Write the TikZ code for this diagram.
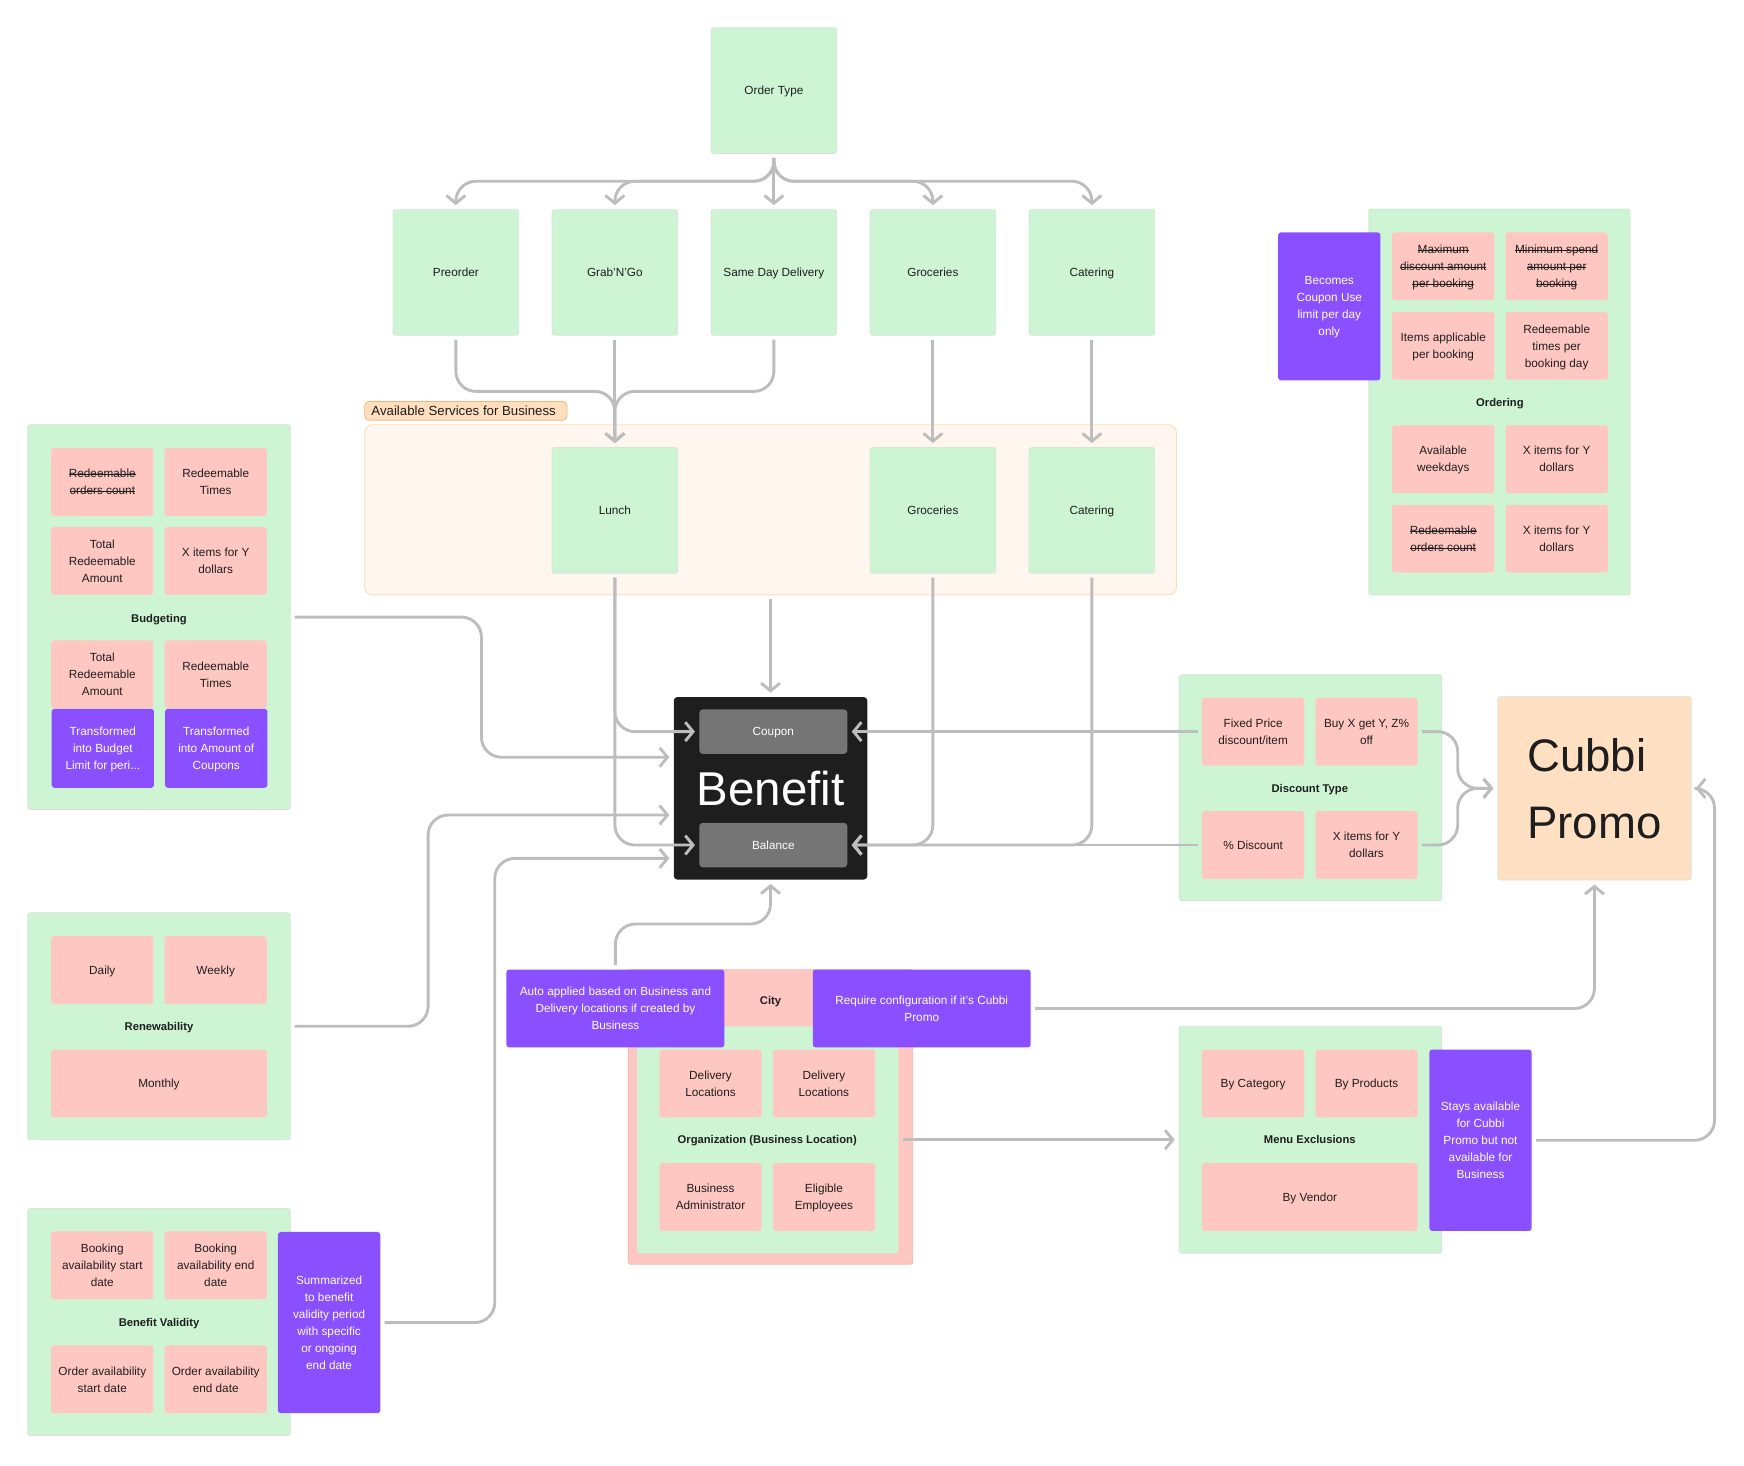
\documentclass[tikz,border=0pt]{standalone}
\usepackage{fontspec}
\setmainfont{Liberation Sans}
\usepackage{xcolor}
\usetikzlibrary{arrows.meta}
\definecolor{mintfill}{HTML}{CDF5D3}
\definecolor{mintline}{HTML}{D5E6D8}
\definecolor{rosefill}{HTML}{FFC7C2}
\definecolor{roseline}{HTML}{EDB8B4}
\definecolor{violetfill}{HTML}{8A4FFF}
\definecolor{inktext}{HTML}{1E1E1E}
\definecolor{slatefill}{HTML}{757575}
\definecolor{peachfill}{HTML}{FFE0C2}
\definecolor{creamfill}{HTML}{FFF6EF}
\definecolor{creamline}{HTML}{FFDDB5}
\definecolor{tabfill}{HTML}{FFDFC0}
\definecolor{tabline}{HTML}{F5B56E}
\definecolor{linkgray}{HTML}{BDBDBD}
\newsavebox{\sobox}
\newcommand{\so}[1]{\sbox{\sobox}{#1}\makebox[0pt][l]{\rule[0.27em]{\wd\sobox}{0.6pt}}\usebox{\sobox}}

\begin{document}
\begin{tikzpicture}[
    x=1pt, y=-1pt,
    every node/.style={inner sep=0pt, outer sep=0pt, align=center, text=inktext, text depth=-2pt, font=\fontsize{10.6}{15.3}\selectfont},
    svc/.style={draw=mintline, line width=0.6pt, fill=mintfill, rounded corners=2pt, minimum width=113pt, minimum height=113pt},
    panel/.style={draw=mintline, line width=0.8pt, fill=mintfill, rounded corners=2pt, minimum width=236pt},
    cell/.style={fill=rosefill, rounded corners=2.5pt, minimum width=92pt, minimum height=61pt},
    wide/.style={cell, minimum width=194pt},
    note/.style={fill=violetfill, rounded corners=2.5pt, text=white, minimum width=92pt},
    head/.style={font=\fontsize{10.1}{15.3}\selectfont\bfseries},
    slate/.style={fill=slatefill, rounded corners=3pt, text=white, minimum width=133pt, minimum height=40pt},
    arr/.style={-{Straight Barb[length=7pt,width=17pt,line width=2.6pt]}, draw=linkgray, line width=2.6pt, rounded corners=18pt, shorten >=4pt, shorten <=4pt}
]
\useasboundingbox (0,0) rectangle (1568.5,1317.6);

\node[svc] (order) at (696,81.5) {Order Type};
\node[svc] (preorder) at (410,245) {Preorder};
\node[svc] (grab) at (553,245) {Grab'N'Go};
\node[svc] (sameday) at (696,245) {Same Day Delivery};
\node[svc] (groceries) at (839,245) {Groceries};
\node[svc] (catering) at (982,245) {Catering};

\node[draw=creamline, line width=0.8pt, fill=creamfill, rounded corners=7pt, minimum width=730pt, minimum height=153pt] (services) at (693,458.5) {};
\node[draw=tabline, line width=0.7pt, fill=tabfill, rounded corners=4pt, minimum width=182pt, minimum height=17pt, font=\fontsize{11.9}{15}\selectfont] (servicestab) at (419,369.5) {Available Services for Business\hspace*{4pt}};
\node[svc] (lunch) at (553,459) {Lunch};
\node[svc] (groceriesb) at (839,459) {Groceries};
\node[svc] (cateringb) at (982,459) {Catering};

\node[panel, minimum height=346pt] (budgeting) at (143,555) {};
\node[cell] (bud1) at (92,433.5) {\so{Redeemable}\\\so{orders count}};
\node[cell] (bud2) at (194,433.5) {Redeemable\\Times};
\node[cell] (bud3) at (92,504.5) {Total\\Redeemable\\Amount};
\node[cell] (bud4) at (194,504.5) {X items for Y\\dollars};
\node[head] (budhead) at (143,556) {Budgeting};
\node[cell] (bud5) at (92,606.5) {Total\\Redeemable\\Amount};
\node[cell] (bud6) at (194,606.5) {Redeemable\\Times};
\node[note, minimum height=71pt] (bud7) at (92.5,673) {Transformed\\into Budget\\Limit for peri...};
\node[note, minimum height=71pt] (bud8) at (194.5,673) {Transformed\\into Amount of\\Coupons};

\node[panel, minimum height=204pt] (renewal) at (143,923) {};
\node[cell] (ren1) at (92,872.5) {Daily};
\node[cell] (ren2) at (194,872.5) {Weekly};
\node[head] (renhead) at (143,923) {Renewability};
\node[wide] (ren3) at (143,974.5) {Monthly};

\node[panel, minimum height=204pt] (validity) at (143,1189) {};
\node[cell] (val1) at (92,1138) {Booking\\availability start\\date};
\node[cell] (val2) at (194,1138) {Booking\\availability end\\date};
\node[head] (valhead) at (143,1189) {Benefit Validity};
\node[cell] (val3) at (92,1240.5) {Order availability\\start date};
\node[cell] (val4) at (194,1240.5) {Order availability\\end date};
\node[note, minimum height=163pt] (valnote) at (296,1189.5) {Summarized\\to benefit\\validity period\\with specific\\or ongoing\\end date};

\node[fill=inktext, rounded corners=3pt, minimum width=174pt, minimum height=164pt] (benefit) at (693,709) {};
\node[text=white, text depth=0pt, font=\fontsize{42.7}{50}\selectfont] (benefittitle) at (693,709) {Benefit};
\node[slate] (coupon) at (695.5,658) {Coupon};
\node[slate] (balance) at (695.5,760) {Balance};

\node[panel, minimum height=203pt] (discount) at (1178.5,708.5) {};
\node[cell] (dis1) at (1127,658) {Fixed Price\\discount/item};
\node[cell] (dis2) at (1229,658) {Buy X get Y, Z\%\\off};
\node[head] (dishead) at (1178,709) {Discount Type};
\node[cell] (dis3) at (1127,760) {\% Discount};
\node[cell] (dis4) at (1229,760) {X items for Y\\dollars};

\node[draw=mintline, line width=0.6pt, fill=peachfill, rounded corners=2pt, minimum width=174pt, minimum height=165pt, align=left, font=\fontsize{41}{60}\selectfont] (cubbi) at (1434,709) {Cubbi\\Promo};

\node[draw=roseline, line width=0.6pt, fill=rosefill, rounded corners=2pt, minimum width=256pt, minimum height=265pt] (city) at (693,1004.5) {};
\node[head] (cityhead) at (693,900) {City};
\node[fill=mintfill, minimum width=235pt, minimum height=204pt, rounded corners=2pt] (org) at (690.5,1025) {};
\node[note, minimum width=196pt, minimum height=70pt] (autonote) at (553.5,907) {Auto applied based on Business and\\Delivery locations if created by\\Business};
\node[note, minimum width=196pt, minimum height=70pt] (cfgnote) at (829,907) {Require configuration if it's Cubbi\\Promo};
\node[cell] (org1) at (639,974.5) {Delivery\\Locations};
\node[cell] (org2) at (741,974.5) {Delivery\\Locations};
\node[head] (orghead) at (690,1025) {Organization (Business Location)};
\node[cell] (org3) at (639,1076.5) {Business\\Administrator};
\node[cell] (org4) at (741,1076.5) {Eligible\\Employees};

\node[panel, minimum height=204pt] (menu) at (1178.5,1025) {};
\node[cell] (men1) at (1127,974.5) {By Category};
\node[cell] (men2) at (1229,974.5) {By Products};
\node[head] (menhead) at (1178,1025) {Menu Exclusions};
\node[wide] (men3) at (1178,1076.5) {By Vendor};
\node[note, minimum height=163pt] (mennote) at (1331.5,1025.5) {Stays available\\for Cubbi\\Promo but not\\available for\\Business};

\node[panel, minimum width=235pt, minimum height=347pt] (ordering) at (1348.5,361.5) {};
\node[note, minimum height=133pt] (ordnote) at (1195.5,275.5) {Becomes\\Coupon Use\\limit per day\\only};
\node[cell] (ord1) at (1298,239.5) {\so{Maximum}\\\so{discount amount}\\\so{per booking}};
\node[cell] (ord2) at (1400,239.5) {\so{Minimum spend}\\\so{amount per}\\\so{booking}};
\node[cell] (ord3) at (1298,311) {Items applicable\\per booking};
\node[cell] (ord4) at (1400,311) {Redeemable\\times per\\booking day};
\node[head] (ordhead) at (1349,362) {Ordering};
\node[cell] (ord5) at (1298,413) {Available\\weekdays};
\node[cell] (ord6) at (1400,413) {X items for Y\\dollars};
\node[cell] (ord7) at (1298,484.5) {\so{Redeemable}\\\so{orders count}};
\node[cell] (ord8) at (1400,484.5) {X items for Y\\dollars};

\draw[arr] (order.south) -- (696,163) -- (410,163) -- (preorder.north);
\draw[arr] (order.south) -- (696,163) -- (553,163) -- (grab.north);
\draw[arr] (order.south) -- (sameday.north);
\draw[arr] (order.south) -- (696,163) -- (839,163) -- (groceries.north);
\draw[arr] (order.south) -- (696,163) -- (982,163) -- (catering.north);
\draw[arr] (preorder.south) -- (410,352) -- (553,352) -- (lunch.north);
\draw[arr] (grab.south) -- (lunch.north);
\draw[arr] (sameday.south) -- (696,352) -- (553,352) -- (lunch.north);
\draw[arr] (groceries.south) -- (groceriesb.north);
\draw[arr] (catering.south) -- (cateringb.north);
\draw[arr] (services.south) -- (benefit.north);
\draw[arr] (lunch.south) -- (553,658) -- (coupon.west);
\draw[arr] (lunch.south) -- (553,760) -- (balance.west);
\draw[arr] (groceriesb.south) -- (839,760) -- (balance.east);
\draw[arr] (cateringb.south) -- (982,760) -- (balance.east);
\draw[arr] (dis1.west) -- (coupon.east);
\draw[arr] (dis3.west) -- (balance.east);
\draw[arr] (budgeting.east) -- (433,555) -- (433,681) -- (benefit.west |- 0,681);
\draw[arr] (renewal.east) -- (385,923) -- (385,733) -- (benefit.west |- 0,733);
\draw[arr] (valnote.east) -- (445,1189.5) -- (445,772) -- (benefit.west |- 0,772);
\draw[arr] (autonote.north) -- (553.5,831) -- (693,831) -- (benefit.south);
\draw[arr] (dis2.east) -- (1311,658) -- (1311,709) -- (cubbi.west);
\draw[arr] (dis4.east) -- (1311,760) -- (1311,709) -- (cubbi.west);
\draw[arr] (cfgnote.east) -- (1434,907) -- (cubbi.south);
\draw[arr] (org.east) -- (menu.west);
\draw[arr] (mennote.east) -- (1542,1025.5) -- (1542,709) -- (cubbi.east);
\end{tikzpicture}
\end{document}
